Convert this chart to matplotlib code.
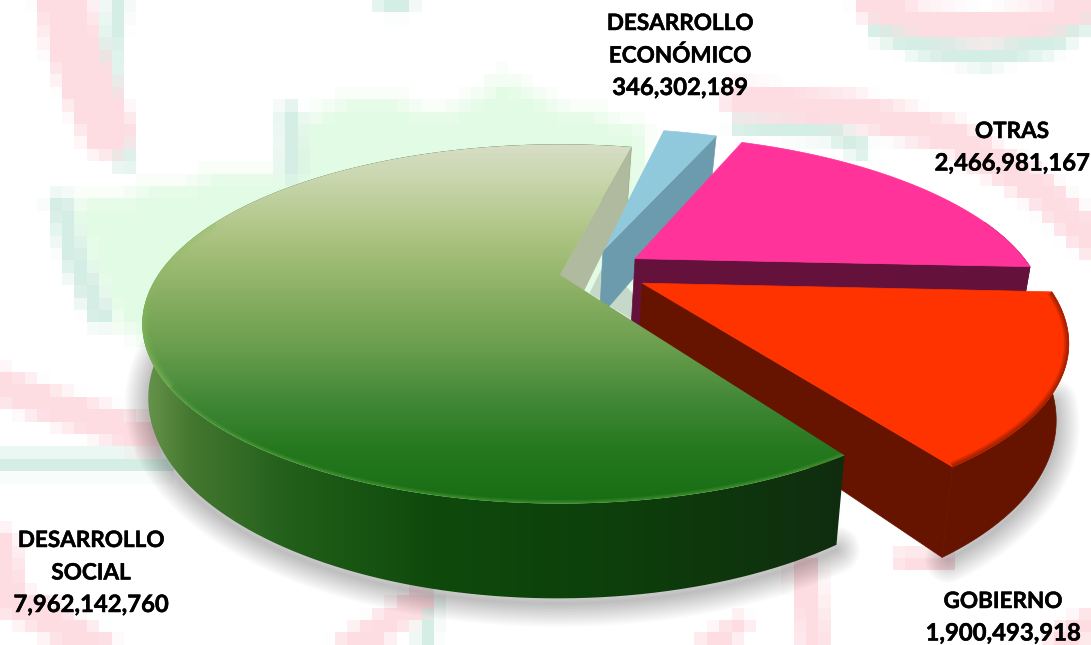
"""Exploded 3D pie of spending by function, drawn from the values with a simple perspective."""
import numpy as np
import matplotlib
matplotlib.use("Agg")
import matplotlib.pyplot as plt
import matplotlib.patheffects as pe
from matplotlib.colors import to_rgb
from matplotlib.patches import Polygon
from matplotlib.path import Path

# -- data ---------------------------------------------------------------
CATEGORIES = ["DESARROLLO\nSOCIAL", "GOBIERNO", "OTRAS", "DESARROLLO\nECONÓMICO"]
VALUES = [7962142760, 1900493918, 2466981167, 346302189]

# -- projection ---------------------------------------------------------
W, H_PX = 1091, 645
CX, CY = 560.0, 275.0
A, B, K, DEPTH = 406.0, 168.0, 0.275, 69.0
TAPER, TAPER_X = 0.02, 440.0    # bottom of the disc leans towards this x
START = 77.0
# explosion offset and radius of each slice, in disc units
OFFSETS = [(0.0, 0.0), (0.2, -0.048), (0.19, 0.1), (0.11, 0.15)]
RADII = [0.99, 0.98, 0.985, 1.0]


def proj(u, v, z=0.0):
    f = 1.0 / (1.0 + K * v)
    x = CX + A * u * f
    return x + (x - TAPER_X) * TAPER * z, CY - (B * v + DEPTH * z) * f


def arc(off, r, a0, a1, z=0.0, n=160):
    t = np.radians(np.linspace(a0, a1, n))
    x, y = proj(off[0] + r * np.cos(t), off[1] + r * np.sin(t), z)
    return np.column_stack([x, y])


def gradient(ax, poly, stops, extent, z, vertical=True):
    pos = [s[0] for s in stops]
    rgb = np.array([to_rgb(s[1]) for s in stops])
    g = np.linspace(pos[0], pos[-1], 300)
    img = np.stack([np.interp(g, pos, rgb[:, i]) for i in range(3)], axis=-1)
    img = img[:, None, :] if vertical else img[None, :, :]
    im = ax.imshow(img, extent=extent, aspect="auto", interpolation="bilinear",
                   origin="upper", zorder=z)
    patch = Polygon(poly, closed=True, transform=ax.transData, fc="none", ec="none")
    ax.add_patch(patch)
    im.set_clip_path(patch)


def face(ax, pts, color, z):
    ax.add_patch(Polygon(pts, closed=True, fc=color, ec=color, lw=0.5, zorder=z))


def rim(ax, top, pts, color, widths, alpha, z):
    patch = Polygon(top, closed=True, transform=ax.transData, fc="none", ec="none")
    ax.add_patch(patch)
    for lw in widths:
        line, = ax.plot(pts[:, 0], pts[:, 1], color=color, lw=lw, alpha=alpha,
                        solid_capstyle="butt", zorder=z)
        line.set_clip_path(patch)


# -- pale pixelated watermark behind the pie ----------------------------
PINK = "#fddce2"
TEAL = "#d5eee5"
BLOB = "#e2fbe4"
CELL = 12.4
PINK_BANDS = [
    ([(63, 0), (75, 50), (90, 90), (108, 130)], 27),
    ([(870, 5), (920, 22), (985, 28), (1050, 20), (1091, 3)], 15),
    ([(740, 100), (850, 110), (950, 135), (1040, 190), (1091, 240)], 17),
    ([(0, 385), (50, 405), (150, 437)], 17),
    ([(0, 545), (10, 600), (50, 620), (100, 650)], 17),
    ([(345, 650), (400, 615), (420, 600)], 14),
    ([(805, 570), (815, 650)], 15),
    ([(905, 560), (945, 560)], 10),
    ([(1060, 640), (1091, 622)], 13),
    ([(700, 650), (740, 625)], 10),
]
TEAL_BANDS = [
    ([(118, 0), (110, 60), (112, 110), (125, 160)], 10),
    ([(880, 28), (920, 45), (985, 56), (1050, 42), (1091, 16)], 12),
    ([(740, 125), (830, 130), (860, 148)], 10),
    ([(0, 463), (165, 463)], 10),
    ([(430, 600), (425, 650)], 9),
    ([(60, 205), (75, 260), (100, 315)], 12),
    ([(290, 115), (292, 170)], 11),
    ([(385, 5), (405, 5)], 8),
]
BLOB_SHAPE = [(75, 200), (160, 188), (230, 172), (285, 175), (300, 120), (350, 100),
              (450, 110), (505, 78), (560, 110), (640, 125), (640, 300), (300, 400),
              (120, 330), (85, 260)]


def band_field(xx, yy, pts, width):
    best = np.full(xx.shape, 1e9)
    for (x0, y0), (x1, y1) in zip(pts[:-1], pts[1:]):
        dx, dy = x1 - x0, y1 - y0
        t = np.clip(((xx - x0) * dx + (yy - y0) * dy) / (dx * dx + dy * dy), 0, 1)
        best = np.minimum(best, np.hypot(xx - x0 - t * dx, yy - y0 - t * dy))
    return np.clip((width - best) / CELL + 0.5, 0, 1)


def watermark(ax):
    cols, rows = int(W / CELL) + 1, int(H_PX / CELL) + 1
    xx, yy = np.meshgrid((np.arange(cols) + 0.5) * CELL, (np.arange(rows) + 0.5) * CELL)
    img = np.ones((rows, cols, 3))
    inside = Path(BLOB_SHAPE).contains_points(np.column_stack([xx.ravel(), yy.ravel()]))
    mask = inside.reshape(xx.shape).astype(float)
    # soften the blob edge by one cell
    soft = (mask + np.roll(mask, 1, 0) + np.roll(mask, -1, 0)
            + np.roll(mask, 1, 1) + np.roll(mask, -1, 1)) / 5.0
    img = img * (1 - soft[..., None]) + np.array(to_rgb(BLOB)) * soft[..., None]
    for bands, color in ((TEAL_BANDS, TEAL), (PINK_BANDS, PINK)):
        for pts, width in bands:
            a = band_field(xx, yy, pts, width)[..., None]
            img = img * (1 - a) + np.array(to_rgb(color)) * a
    ax.imshow(img, extent=(0, cols * CELL, rows * CELL, 0), aspect="auto",
              interpolation="nearest", zorder=0)


# -- figure -------------------------------------------------------------
plt.rcParams["font.family"] = ["Lato", "DejaVu Sans"]
fig = plt.figure(figsize=(W / 100, H_PX / 100), dpi=100)
ax = fig.add_axes([0, 0, 1, 1])
ax.axis("off")
watermark(ax)

spans = np.array(VALUES) / sum(VALUES) * 360.0
edges = START + np.concatenate([[0], np.cumsum(spans)])
slices = {i: (OFFSETS[i], RADII[i], edges[i], edges[i + 1]) for i in range(4)}

# soft shadow under the front of the pie
for i, lo, hi in ((0, 165, edges[1]), (1, edges[1] + 1, edges[2] - 10)):
    pts = arc(slices[i][0], slices[i][1], lo, hi, -1.0)
    for lw in np.linspace(2, 34, 16):
        ax.plot(pts[:, 0], pts[:, 1] + 5, color="black", lw=lw, alpha=0.016,
                solid_capstyle="round", zorder=1)

# pale wall seen between the green slice and the blue one
face(ax, [(590, 293), (605, 263), (636, 298), (636, 322)], "#c6d9c8", 2)

# economic development (blue)
off, r, a0, a1 = slices[3]
apex_t, apex_b = proj(off[0], off[1]), proj(off[0], off[1], -1.0)
end, end_b = arc(off, r, a0, a0 + 0.01), arc(off, r, a0, a0 + 0.01, -1.0)
face(ax, [apex_t, end[0], end_b[0], apex_b], "#6b9bad", 3)
face(ax, np.vstack([[apex_t], arc(off, r, a0, a1)]), "#90c9dc", 3)

# others (pink)
off, r, a0, a1 = slices[2]
apex_t, apex_b = proj(off[0], off[1]), proj(off[0], off[1], -1.0)
outer_t, outer_b = arc(off, r, a0, a1), arc(off, r, a0, a1, -1.0)
face(ax, np.vstack([outer_t[:40], outer_b[:40][::-1]]), "#64123c", 4)
face(ax, [apex_t, outer_t[0], outer_b[0], apex_b], "#64123c", 4)
face(ax, np.vstack([[apex_t], outer_t]), "#ff3399", 4)

# government (orange)
off, r, a0, a1 = slices[1]
outer_t, outer_b = arc(off, r, a0, a1), arc(off, r, a0, a1, -1.0)
apex_t, apex_b = proj(off[0], off[1]), proj(off[0], off[1], -1.0)
face(ax, np.vstack([outer_t, outer_b[::-1]]), "#661400", 5)
face(ax, [apex_t, outer_t[0], outer_b[0], apex_b], "#661400", 5)
top = np.vstack([[apex_t], outer_t])
face(ax, top, "#ff3300", 5)
rim(ax, top, outer_t, "#661400", [1.5, 3, 5, 7], 0.2, 5)

# social development (green)
off, r, a0, a1 = slices[0]
outer_t, outer_b = arc(off, r, a0, a1), arc(off, r, a0, a1, -1.0)
apex_t, apex_b = proj(off[0], off[1]), proj(off[0], off[1], -1.0)
gradient(ax, np.vstack([outer_t, outer_b[::-1]]),
         [(135, "#6f9a52"), (190, "#44772f"), (290, "#215f1a"), (430, "#0f4a0c"),
          (620, "#0d3f0b"), (845, "#102d0f")],
         (135, 845, 610, 130), 6, vertical=False)
face(ax, [apex_t, outer_t[0], outer_b[0], apex_b], "#afba9f", 6)
top = np.vstack([[apex_t], outer_t])
gradient(ax, top,
         [(140, "#dadfca"), (180, "#c8d6ac"), (240, "#aac27f"), (300, "#86ad60"),
          (345, "#6b9f4e"), (400, "#428837"), (450, "#25781e"), (510, "#176c13")],
         (130, 850, 510, 140), 7, vertical=True)
rim(ax, top, arc(off, r, 190, a1), "#72c050", [1.5, 3, 5], 0.14, 8)
rim(ax, top, arc(off, r, 160, 215), "#8cc060", [2, 5, 9], 0.14, 8)

# -- labels -------------------------------------------------------------
LABEL_POS = [(91, 547), (1003, 608), (1012, 138), (680, 30)]
LINE_STEP = 32.5
bold = [pe.withStroke(linewidth=0.35, foreground="black")]
for name, val, (x, y) in zip(CATEGORIES, VALUES, LABEL_POS):
    lines = name.split("\n")
    for j, line in enumerate(lines):
        ax.text(x, y + j * LINE_STEP, line, ha="center", va="baseline", fontsize=16.2,
                fontweight="bold", color="black", zorder=10, path_effects=bold)
    ax.text(x, y + len(lines) * LINE_STEP, f"{val:,}", ha="center", va="baseline",
            fontsize=17.2, fontweight="bold", color="black", zorder=10, path_effects=bold)

ax.set_xlim(0, W)
ax.set_ylim(H_PX, 0)
fig.savefig("out.png", dpi=100)
